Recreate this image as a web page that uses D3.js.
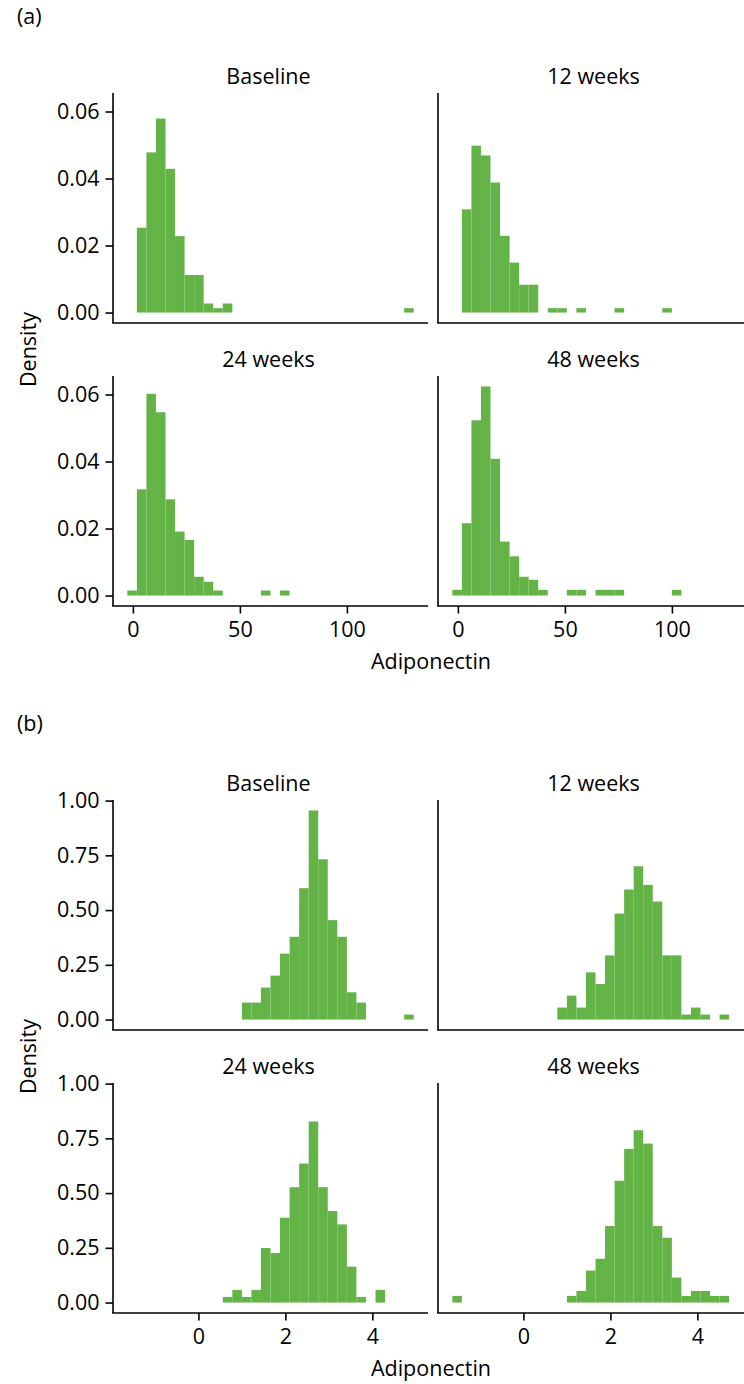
<!DOCTYPE html>
<html><head><meta charset="utf-8">
<script src="https://cdn.jsdelivr.net/npm/d3@7"></script>
<style>
body{margin:0;background:#fff;}
svg text{font-family:"Open Sans",sans-serif;fill:#000;}
</style>
</head><body>
<svg id="chart" width="744" height="1384"></svg>
<script>
// ---------- data ----------
const facetLabels = ["Baseline", "12 weeks", "24 weeks", "48 weeks"];
const partLabels = ["(a)", "(b)"];
const xTitle = "Adiponectin";
const yTitle = "Density";

// (a) raw scale histogram: 30 bins
const binStartA = -2.6, binWidthA = 4.46;
const baselineA = [0, 0.0253, 0.0478, 0.0579, 0.0429, 0.0228, 0.0112, 0.0112, 0.0027, 0.0013, 0.0027, 0, 0, 0, 0, 0, 0, 0, 0, 0, 0, 0, 0, 0, 0, 0, 0, 0, 0, 0.0013];
const week12A = [0, 0.0308, 0.0498, 0.0469, 0.0388, 0.0229, 0.0149, 0.0083, 0.0083, 0, 0.0013, 0.0013, 0, 0.0013, 0, 0, 0, 0.0013, 0, 0, 0, 0, 0.0013, 0, 0, 0, 0, 0, 0, 0];
const week24A = [0.0015, 0.0317, 0.0602, 0.0547, 0.0287, 0.0191, 0.0166, 0.0056, 0.0041, 0.0015, 0, 0, 0, 0, 0.0015, 0, 0.0015, 0, 0, 0, 0, 0, 0, 0, 0, 0, 0, 0, 0, 0];
const week48A = [0.0017, 0.0216, 0.0523, 0.0624, 0.0408, 0.0161, 0.0117, 0.0056, 0.0047, 0.0017, 0, 0, 0.0017, 0.0017, 0, 0.0017, 0.0017, 0.0017, 0, 0, 0, 0, 0, 0.0017, 0, 0, 0, 0, 0, 0];
const xTicksA = [0, 50, 100];
const yTicksA = [0, 0.02, 0.04, 0.06];

// (b) log scale histogram: 30 bins
const binStartB = -1.635, binWidthB = 0.2195;
const baselineB = [0, 0, 0, 0, 0, 0, 0, 0, 0, 0, 0, 0, 0.0775, 0.0775, 0.146, 0.2005, 0.301, 0.378, 0.600, 0.955, 0.732, 0.454, 0.378, 0.1245, 0.0775, 0, 0, 0, 0, 0.0228];
const week12B = [0, 0, 0, 0, 0, 0, 0, 0, 0, 0, 0, 0.0547, 0.1093, 0.0547, 0.2156, 0.1625, 0.293, 0.484, 0.594, 0.700, 0.615, 0.539, 0.293, 0.293, 0.0228, 0.0547, 0.0228, 0, 0.0228, 0];
const week24B = [0, 0, 0, 0, 0, 0, 0, 0, 0, 0, 0.0258, 0.0578, 0.0258, 0.0578, 0.249, 0.226, 0.3875, 0.527, 0.635, 0.827, 0.527, 0.418, 0.357, 0.164, 0.0258, 0, 0.0578, 0, 0, 0];
const week48B = [0.0304, 0, 0, 0, 0, 0, 0, 0, 0, 0, 0, 0, 0.0304, 0.053, 0.146, 0.200, 0.3495, 0.556, 0.702, 0.787, 0.726, 0.3495, 0.296, 0.114, 0.030, 0.053, 0.053, 0.030, 0.030, 0];
const xTicksB = [0, 2, 4];
const yTicksB = [0, 0.25, 0.5, 0.75, 1.0];

// ---------- layout ----------
const FS = 21.5;
const PW = 315, PH = 230;
const colX = [113, 438];
const rowStep = 283;
const fillCol = "#64b347";

const svg = d3.select("#chart");

function drawPart(cfg) {
  const nb = cfg.series[0].length;
  const lo = cfg.binStart, hi = cfg.binStart + nb * cfg.binWidth;
  const rx = hi - lo;
  const x = d3.scaleLinear().domain([lo - 0.05 * rx, hi + 0.05 * rx]).range([0, PW]);
  const ymax = d3.max(cfg.series.flat());
  const y = d3.scaleLinear().domain([-0.05 * ymax, 1.05 * ymax]).range([PH, 0]);

  svg.append("text").attr("x", 17).attr("y", cfg.top - 69)
    .attr("font-size", FS).text(cfg.label);

  cfg.series.forEach((vals, p) => {
    const col = p % 2, row = Math.floor(p / 2);
    const gx = colX[col], gy = cfg.top + row * rowStep;
    const g = svg.append("g").attr("transform", `translate(${gx},${gy})`);

    // title
    g.append("text").attr("x", PW / 2 - 2).attr("y", -9.5)
      .attr("text-anchor", "middle").attr("font-size", FS).text(facetLabels[p]);

    // bars
    const bins = vals.map((v, i) => ({v, x0: cfg.binStart + i * cfg.binWidth, x1: cfg.binStart + (i + 1) * cfg.binWidth}))
      .filter(d => d.v > 0);
    g.selectAll("rect.bar").data(bins).enter().append("rect")
      .attr("class", "bar")
      .attr("x", d => x(d.x0))
      .attr("width", d => x(d.x1) - x(d.x0))
      .attr("y", d => y(d.v))
      .attr("height", d => y(0) - y(d.v))
      .attr("fill", fillCol);

    // axis lines
    g.append("line").attr("x1", 0).attr("x2", 0).attr("y1", 0).attr("y2", PH)
      .attr("stroke", "#000").attr("stroke-width", 1.6);
    g.append("line").attr("x1", -0.8).attr("x2", PW).attr("y1", PH).attr("y2", PH)
      .attr("stroke", "#000").attr("stroke-width", 1.6);

    if (col === 0) {
      const ya = g.append("g").call(d3.axisLeft(y).tickValues(cfg.yTicks)
        .tickSize(7.5).tickPadding(6).tickFormat(d3.format(".2f")));
      ya.select(".domain").remove();
      ya.selectAll(".tick line").attr("stroke", "#000").attr("stroke-width", 1.6);
      ya.selectAll(".tick text").attr("font-size", FS).attr("font-family", "Open Sans").attr("fill", "#000");
    }
    if (row === 1) {
      const xa = g.append("g").attr("transform", `translate(0,${PH})`)
        .call(d3.axisBottom(x).tickValues(cfg.xTicks).tickSize(7.5).tickPadding(8).tickFormat(d3.format("d")));
      xa.select(".domain").remove();
      xa.selectAll(".tick line").attr("stroke", "#000").attr("stroke-width", 1.6);
      xa.selectAll(".tick text").attr("font-size", FS).attr("font-family", "Open Sans").attr("fill", "#000");
    }
  });

  // axis titles
  svg.append("text").attr("x", (colX[0] + colX[1] + PW) / 2 - 2).attr("y", cfg.top + rowStep + PH + 63)
    .attr("text-anchor", "middle").attr("font-size", FS).text(xTitle);
  const cy = cfg.top + (rowStep + PH) / 2;
  svg.append("text").attr("transform", `translate(36,${cy}) rotate(-90)`)
    .attr("text-anchor", "middle").attr("font-size", FS).text(yTitle);
}

drawPart({label: partLabels[0], top: 93, binStart: binStartA, binWidth: binWidthA,
  series: [baselineA, week12A, week24A, week48A], xTicks: xTicksA, yTicks: yTicksA});
drawPart({label: partLabels[1], top: 800, binStart: binStartB, binWidth: binWidthB,
  series: [baselineB, week12B, week24B, week48B], xTicks: xTicksB, yTicks: yTicksB});
</script>
</body></html>
